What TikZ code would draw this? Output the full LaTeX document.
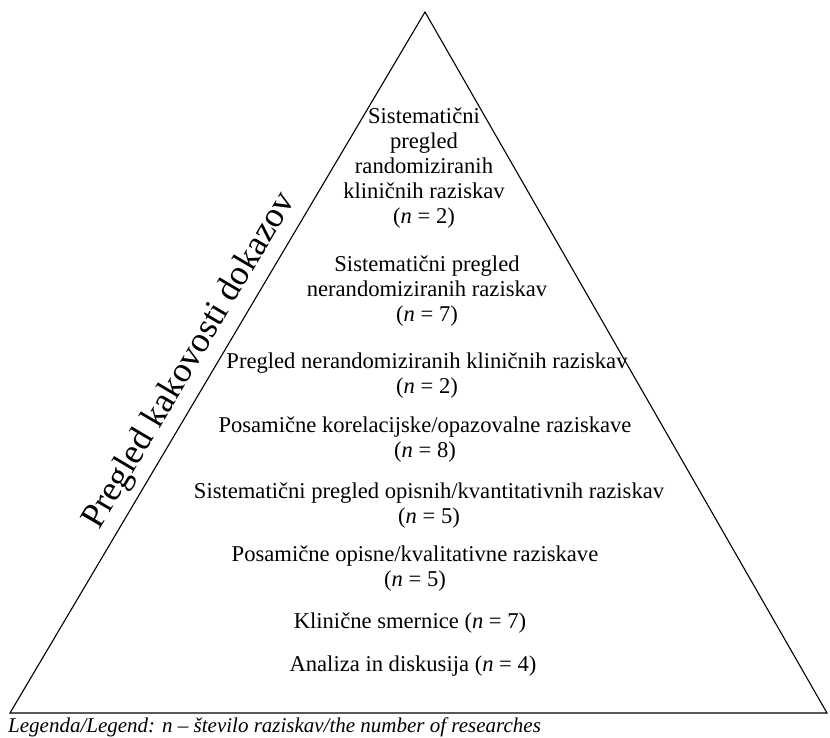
\documentclass[tikz,border=0pt]{standalone}
\usepackage{fontspec}
\setmainfont{Liberation Serif}
\begin{document}
\begin{tikzpicture}[x=1pt,y=-1pt,
  lvl/.style={align=center,font=\fontsize{22.6}{25}\selectfont,inner sep=0pt,anchor=center},
  side/.style={font=\fontsize{35.5}{38}\selectfont,inner sep=0pt,anchor=center,rotate=59.4},
  legend/.style={font=\itshape\fontsize{21}{24}\selectfont,inner sep=0pt,anchor=west}]
\useasboundingbox (0,0) rectangle (830,737);
\coordinate (L) at (10,713);
\coordinate (T) at (425,12);
\coordinate (R) at (827,713);
\draw[line width=1.1pt,line join=miter] (L) -- (T) -- (R) -- cycle;
\node[lvl] (b1) at (424,168) {Sistematični\\pregled\\randomiziranih\\kliničnih raziskav\\(\textit{n} = 2)};
\node[lvl] (b2) at (427,291) {Sistematični pregled\\nerandomiziranih raziskav\\(\textit{n} = 7)};
\node[lvl] (b3) at (427,376) {Pregled nerandomiziranih kliničnih raziskav\\(\textit{n} = 2)};
\node[lvl] (b4) at (425,440) {Posamične korelacijske/opazovalne raziskave\\(\textit{n} = 8)};
\node[lvl] (b5) at (429,506) {Sistematični pregled opisnih/kvantitativnih raziskav\\(\textit{n} = 5)};
\node[lvl] (b6) at (415,569) {Posamične opisne/kvalitativne raziskave\\(\textit{n} = 5)};
\node[lvl] (b7) at (410,623) {Klinične smernice (\textit{n} = 7)};
\node[lvl] (b8) at (413,666) {Analiza in diskusija (\textit{n} = 4)};
\node[side] (ax) at (190,361) {Pregled kakovosti dokazov};
\node[legend] (lg) at (8,727) {Legenda/Legend: n – število raziskav/the number of researches};
\end{tikzpicture}
\end{document}
